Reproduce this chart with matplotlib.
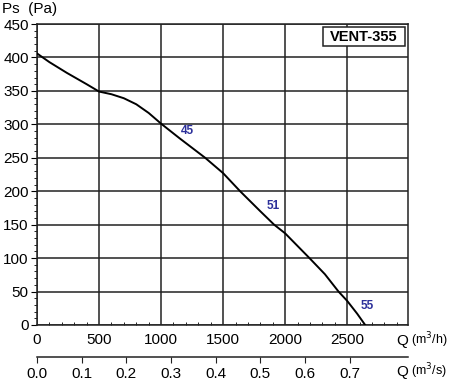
import matplotlib
matplotlib.use("Agg")
import matplotlib.pyplot as plt
from matplotlib.ticker import MultipleLocator
from matplotlib.patches import Rectangle

plt.rcParams['font.family'] = ['Liberation Sans', 'DejaVu Sans']

# fan curve, Q in m3/h, Ps in Pa
q_m3h = [0, 100, 240, 400, 500, 600, 700, 800, 900, 1000, 1150, 1355, 1500,
         1637, 1800, 1911, 2000, 2196, 2320, 2430, 2500, 2580, 2645]
ps_pa = [406, 393, 377, 360, 349, 345, 339, 330, 317, 301, 279, 250, 227,
         200, 170, 150, 137, 100, 76, 50, 36, 17, 0]

x_ticks = [0, 500, 1000, 1500, 2000, 2500]
y_ticks = list(range(0, 451, 50))
qs_ticks = [0.0, 0.1, 0.2, 0.3, 0.4, 0.5, 0.6, 0.7]

# speed labels on the curve
lbl_text = ["45", "51", "55"]
lbl_q = [1215, 1900, 2660]
lbl_ps = [290, 178, 28]

fig = plt.figure(figsize=(4.5, 3.81), dpi=100)
ax = fig.add_axes([37/450, 1 - 325/381, 371/450, 301/381])

ax.plot(q_m3h, ps_pa, color="black", lw=1.4, zorder=3)

ax.set_xlim(0, 2990)
ax.set_ylim(0, 450)
ax.set_xticks(x_ticks)
ax.set_yticks(y_ticks)
ax.xaxis.set_minor_locator(MultipleLocator(100))
ax.yaxis.set_minor_locator(MultipleLocator(10))
ax.grid(True, which="major", color="#222222", lw=1.1)
for s in ax.spines.values():
    s.set_color("#222222")
    s.set_linewidth(1.1)

ax.tick_params(axis="y", which="major", direction="out", length=4, labelsize=11, pad=2)
ax.tick_params(axis="y", which="minor", direction="out", length=2)
ax.tick_params(axis="x", which="major", direction="out", length=0, labelsize=11, pad=6)
ax.tick_params(axis="x", which="minor", direction="in", length=2)

for t, q, p in zip(lbl_text, lbl_q, lbl_ps):
    ax.text(q, p, t, color="#2b2f9a", fontsize=8.5, fontweight="bold", ha="center", va="center")

ax.add_patch(Rectangle((0.771, 0.927), 0.221, 0.063, transform=ax.transAxes,
                       fc="white", ec="#222222", lw=1.1, zorder=4))
ax.text(0.8815, 0.958, "VENT-355", transform=ax.transAxes, ha="center", va="center",
        fontsize=10.5, fontweight="bold", zorder=5)

fig.text(2/450, 1 - 9/381, "Ps  (Pa)", fontsize=11, ha="left", va="center")
fig.text(396/450, 1 - 341/381, "Q", fontsize=11, ha="left", va="center")
fig.text(411/450, 1 - 340/381, "(m$^3$/h)", fontsize=9, ha="left", va="center")
fig.text(396/450, 1 - 372/381, "Q", fontsize=11, ha="left", va="center")
fig.text(411/450, 1 - 371/381, "(m$^3$/s)", fontsize=9, ha="left", va="center")

# second scale in m3/s
ax2 = fig.add_axes([37/450, 1 - 357/381, 371/450, 0.0001])
ax2.set_xlim(0, 2990 / 3600)
ax2.set_xticks(qs_ticks)
ax2.set_xticklabels(["%.1f" % v for v in qs_ticks])
ax2.set_yticks([])
for k in ["top", "left", "right"]:
    ax2.spines[k].set_visible(False)
ax2.spines["bottom"].set_color("#222222")
ax2.spines["bottom"].set_linewidth(1.1)
ax2.tick_params(axis="x", direction="out", length=4, labelsize=11, pad=3, color="#222222")
ax2.patch.set_visible(False)

fig.savefig("out.png", dpi=100)
